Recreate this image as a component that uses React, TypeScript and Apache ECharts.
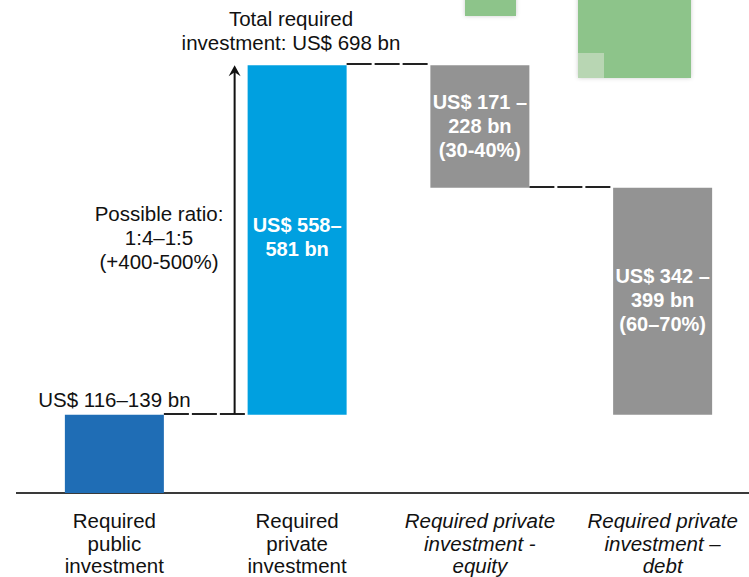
import React, { useEffect, useRef } from 'react';
import * as echarts from 'echarts';

const categories = [
  'Required\npublic\ninvestment',
  'Required\nprivate\ninvestment',
  'Required private\ninvestment -\nequity',
  'Required private\ninvestment –\ndebt',
];
const italicCategory = [false, false, true, true];
const baseValues = [0, 127.5, 498, 127.5];
const barValues = [127.5, 570.5, 200, 370.5];
const barLabels = [
  'US$ 116–139 bn',
  'US$ 558–\n581 bn',
  'US$ 171 –\n228 bn\n(30-40%)',
  'US$ 342 –\n399 bn\n(60–70%)',
];
const barColors = ['#1f6db5', '#00a0e0', '#939393', '#939393'];
const totalValue = 698;
const totalLabel = 'Total required\ninvestment: US$ 698 bn';
const ratioLabel = 'Possible ratio:\n1:4–1:5\n(+400-500%)';

const FONT = '"Liberation Sans", Arial, Helvetica, sans-serif';
const BAR_W = 99;
const FS = 20.5;

export default function App() {
  const ref = useRef<HTMLDivElement>(null);
  useEffect(() => {
    if (!ref.current) return;
    document.body.style.margin = '0';
    document.body.style.overflow = 'hidden';
    const chart = echarts.init(ref.current, undefined, { renderer: 'svg' });
    chart.setOption({
      animation: false,
      grid: { left: 23, width: 731, top: 64, bottom: 84, outerBoundsMode: 'none', containLabel: false },
      xAxis: {
        type: 'category',
        data: categories.map((c, i) => ({
          value: c,
          textStyle: { fontStyle: italicCategory[i] ? 'italic' : 'normal' },
        })),
        axisLine: { show: false },
        axisTick: { show: false },
        axisLabel: {
          interval: 0,
          margin: 16.5,
          color: '#111',
          fontSize: FS,
          lineHeight: 22.5,
          fontFamily: FONT,
        },
      },
      yAxis: { type: 'value', min: 0, max: 700, show: false, splitLine: { show: false } },
      series: [
        {
          type: 'bar',
          stack: 'w',
          silent: true,
          barWidth: BAR_W,
          itemStyle: { color: 'rgba(0,0,0,0)' },
          data: baseValues,
        },
        {
          type: 'bar',
          stack: 'w',
          barWidth: BAR_W,
          data: barValues.map((v, i) => ({
            value: v,
            itemStyle: { color: barColors[i] },
            label:
              i === 0
                ? {
                    show: true,
                    position: 'top',
                    distance: 5,
                    formatter: barLabels[i],
                    color: '#111',
                    fontSize: FS,
                    lineHeight: 20,
                    fontFamily: FONT,
                  }
                : {
                    show: true,
                    position: 'inside',
                    offset: [0, i === 1 ? -3 : -1],
                    formatter: barLabels[i],
                    color: '#ffffff',
                    fontSize: 20,
                    fontWeight: 'bold',
                    lineHeight: 24,
                    fontFamily: FONT,
                  },
          })),
        },
      ],
    });

    const px = (i: number, v: number) => chart.convertToPixel({ gridIndex: 0 }, [i, v]) as number[];
    const half = BAR_W / 2;
    const levels = [
      baseValues[0] + barValues[0],
      baseValues[1] + barValues[1],
      baseValues[2],
    ];
    const elements: any[] = [];
    levels.forEach((lv, i) => {
      const a = px(i, lv);
      const b = px(i + 1, lv);
      const y = Math.round(a[1]) - 1;
      elements.push({
        type: 'line',
        shape: { x1: a[0] + half, y1: y, x2: b[0] - half, y2: y },
        style: { stroke: '#222', lineWidth: 2, lineDash: [25, 3] },
        silent: true,
      });
    });
    const zero = px(0, 0);
    elements.push({
      type: 'line',
      shape: { x1: 16, y1: zero[1], x2: 749, y2: zero[1] },
      style: { stroke: '#3a3a3a', lineWidth: 2 },
      silent: true,
    });
    const bot = px(1, baseValues[1]);
    const top = px(1, totalValue);
    const ax = bot[0] - half - 13;
    elements.push({
      type: 'line',
      shape: { x1: ax, y1: bot[1] - 1, x2: ax, y2: top[1] + 4 },
      style: { stroke: '#111', lineWidth: 2 },
      silent: true,
    });
    elements.push({
      type: 'polygon',
      shape: {
        points: [
          [ax, top[1]],
          [ax - 6, top[1] + 11],
          [ax, top[1] + 7],
          [ax + 6, top[1] + 11],
        ],
      },
      style: { fill: '#111' },
      silent: true,
    });
    elements.push({
      type: 'text',
      x: 291,
      y: 30,
      style: {
        text: totalLabel,
        fill: '#111',
        fontSize: FS,
        fontFamily: FONT,
        lineHeight: 24,
        align: 'center',
        verticalAlign: 'middle',
      },
      silent: true,
    });
    elements.push({
      type: 'text',
      x: 159,
      y: 237,
      style: {
        text: ratioLabel,
        fill: '#111',
        fontSize: FS,
        fontFamily: FONT,
        lineHeight: 24,
        align: 'center',
        verticalAlign: 'middle',
      },
      silent: true,
    });
    elements.push({
      type: 'rect',
      shape: { x: 465, y: -5, width: 51, height: 21 },
      style: { fill: '#8dc48a', shadowBlur: 4, shadowColor: 'rgba(0,0,0,0.2)' },
      silent: true,
    });
    elements.push({
      type: 'rect',
      shape: { x: 578, y: -5, width: 113, height: 83 },
      style: { fill: '#8dc48a', shadowBlur: 4, shadowColor: 'rgba(0,0,0,0.2)' },
      silent: true,
    });
    elements.push({
      type: 'rect',
      shape: { x: 578, y: 53, width: 26, height: 25 },
      style: { fill: '#b8d6b3' },
      silent: true,
    });
    chart.setOption({ graphic: { elements } });
    return () => chart.dispose();
  }, []);
  return (
    <div
      ref={ref}
      style={{ width: 749, height: 577, background: '#fff', overflow: 'hidden' }}
    />
  );
}
